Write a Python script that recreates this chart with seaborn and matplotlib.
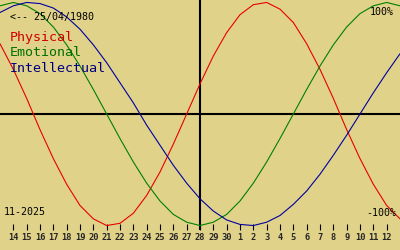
import matplotlib
matplotlib.use("Agg")
import matplotlib.pyplot as plt
import seaborn as sns
import pandas as pd

# ---- data ----
birth_label = "<-- 25/04/1980"
month_label = "11-2025"
days = [13, 14, 15, 16, 17, 18, 19, 20, 21, 22, 23, 24, 25, 26, 27, 28,
        29, 30, 1, 2, 3, 4, 5, 6, 7, 8, 9, 10, 11, 12, 13]
physical = [63, 40, 14, -14, -40, -63, -82, -94, -100, -98, -89, -73, -52, -27, 0,
            27, 52, 73, 89, 98, 100, 94, 82, 63, 40, 14, -14, -40, -63, -82, -94]
emotional = [97, 100, 97, 90, 78, 62, 43, 22, 0, -22, -43, -62, -78, -90, -97,
             -100, -97, -90, -78, -62, -43, -22, 0, 22, 43, 62, 78, 90, 97, 100, 97]
intellectual = [91, 97, 100, 99, 95, 87, 76, 62, 46, 28, 10, -10, -28, -46, -62,
                -76, -87, -95, -99, -100, -97, -91, -81, -69, -54, -37, -19, 0, 19, 37, 54]
series_names = ["Physical", "Emotional", "Intellectual"]
today_index = 15

bg = "#E1D28A"
colors = {"Physical": "#E80000", "Emotional": "#008000", "Intellectual": "#0000A0"}
text_colors = {"Physical": "#D00000", "Emotional": "#007000", "Intellectual": "#000080"}

sns.set_style("white")
plt.rcParams["font.family"] = ["DejaVu Sans Mono", "DejaVu Sans"]

rows = []
for name, vals in zip(series_names, [physical, emotional, intellectual]):
    for i, v in enumerate(vals):
        rows.append({"idx": i, "value": v, "series": name})
df = pd.DataFrame(rows)

W, H = 400, 250
fig = plt.figure(figsize=(4, 2.5), dpi=100, facecolor=bg)
ax = fig.add_axes([0, 20 / H, 1, 230 / H])
ax.set_facecolor(bg)

sns.lineplot(data=df, x="idx", y="value", hue="series", palette=colors,
             linewidth=0.8, legend=False, ax=ax, zorder=3)

ax.axhline(0, color="black", linewidth=1.5, zorder=2)
ax.axvline(today_index, color="black", linewidth=1.5, zorder=2)

ax.set_xlim(0, len(days) - 1)
ax.set_ylim(-104.0, 102.2)
for s in ax.spines.values():
    s.set_visible(False)
ax.set_yticks([])
ax.set_xticks(range(1, len(days) - 1))
ax.set_xticklabels([str(d) for d in days[1:-1]], fontsize=6.3, fontweight="bold")
ax.tick_params(axis="x", direction="in", length=4.5, width=0.8, color="black",
               pad=2.5, bottom=True)
ax.set_xlabel("")
ax.set_ylabel("")

def px(x, y):
    return x / W, 1 - y / H

fig.text(*px(10, 17), birth_label, fontsize=7.2, color="black", va="center", ha="left")
for name, yy in zip(series_names, [37, 53, 68]):
    fig.text(*px(10, yy), name, fontsize=9.6, color=text_colors[name], va="center", ha="left")
fig.text(*px(394, 12), "100%", fontsize=7.2, color="black", va="center", ha="right")
fig.text(*px(396, 212.5), "-100%", fontsize=7.2, color="black", va="center", ha="right")
fig.text(*px(4, 212), month_label, fontsize=7.2, color="black", va="center", ha="left")

fig.savefig("out.png", dpi=100, facecolor=bg)
